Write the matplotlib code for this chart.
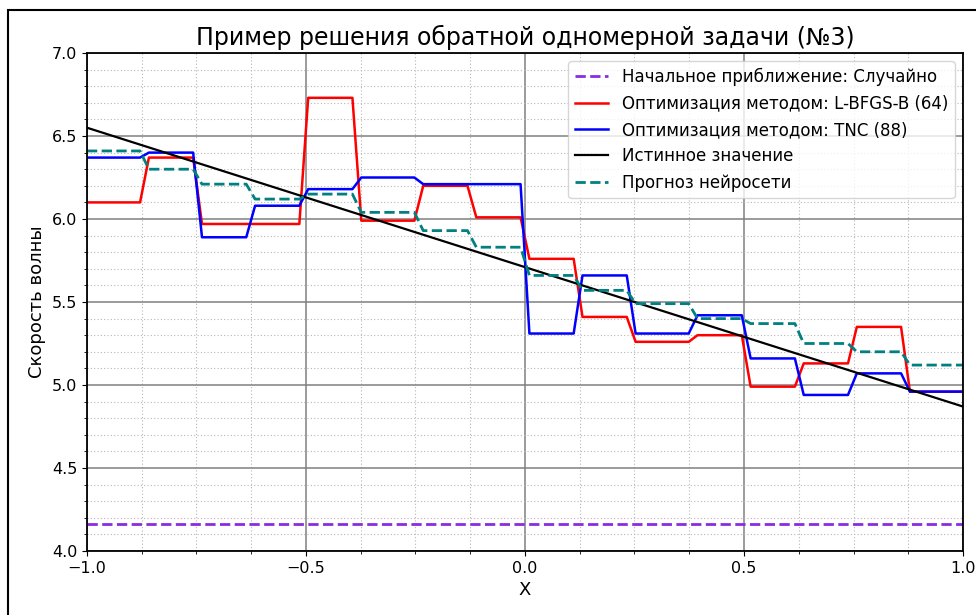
import matplotlib
matplotlib.use("Agg")
import matplotlib.pyplot as plt
from matplotlib.patches import Rectangle
from matplotlib.ticker import MultipleLocator
import numpy as np

# value of each piece on the 16 equal sub-intervals of [-1, 1]
lbfgsb = [6.10, 6.37, 5.97, 5.97, 6.73, 5.99, 6.20, 6.01,
          5.76, 5.41, 5.26, 5.30, 4.99, 5.13, 5.35, 4.96]
tnc = [6.37, 6.40, 5.89, 6.08, 6.18, 6.25, 6.21, 6.21,
       5.31, 5.66, 5.31, 5.42, 5.16, 4.94, 5.07, 4.96]
nn_pred = [6.41, 6.30, 6.21, 6.12, 6.15, 6.04, 5.93, 5.83,
           5.66, 5.57, 5.49, 5.40, 5.37, 5.25, 5.20, 5.12]
true_x = [-1.0, 1.0]
true_v = [6.55, 4.87]
init_guess = 4.16

x = np.linspace(-1, 1, 100)
idx = np.minimum(((x + 1) / 2 * len(lbfgsb)).astype(int), len(lbfgsb) - 1)

fig = plt.figure(figsize=(9.76, 6.15), dpi=100)
ax = fig.add_axes([0.0891, 0.1041, 0.8976, 0.8097])

# frame around the whole figure
fig.patches.append(Rectangle((8 / 976, -0.05), 1.2, 1 - 10 / 615 + 0.05,
                             transform=fig.transFigure, fill=False,
                             edgecolor="black", linewidth=1.5))

ax.plot(x, np.full_like(x, init_guess), "--", color="blueviolet", lw=2,
        label="Начальное приближение: Случайно")
ax.plot(x, np.array(lbfgsb)[idx], color="red", lw=1.8,
        label="Оптимизация методом: L-BFGS-B (64)")
ax.plot(x, np.array(tnc)[idx], color="blue", lw=1.8,
        label="Оптимизация методом: TNC (88)")
ax.plot(true_x, true_v, color="black", lw=1.6, label="Истинное значение")
ax.plot(x, np.array(nn_pred)[idx], "--", color="teal", lw=2,
        label="Прогноз нейросети")

ax.set_xlim(-1, 1)
ax.set_ylim(4, 7)
ax.xaxis.set_major_locator(MultipleLocator(0.5))
ax.xaxis.set_minor_locator(MultipleLocator(0.125))
ax.yaxis.set_major_locator(MultipleLocator(0.5))
ax.yaxis.set_minor_locator(MultipleLocator(0.1))
ax.grid(which="major", color="#808080", lw=1.1)
ax.grid(which="minor", color="#b8b8b8", lw=0.8, ls=(0, (1, 2)))
ax.set_axisbelow(True)
ax.tick_params(labelsize=11.5)
for s in ax.spines.values():
    s.set_linewidth(1.3)

ax.set_title("Пример решения обратной одномерной задачи (№3)", fontsize=17)
ax.set_xlabel("X", fontsize=13)
ax.set_ylabel("Скорость волны", fontsize=13)
ax.legend(loc="upper right", fontsize=12)

fig.savefig("out.png", dpi=100)
